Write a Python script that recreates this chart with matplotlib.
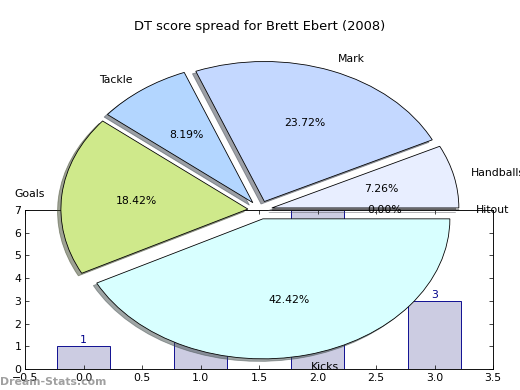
import matplotlib
matplotlib.use("Agg")
import matplotlib.pyplot as plt

# Bar data
bar_x = [0, 1, 2, 3]
bar_values = [1, 4, 7, 3]

# Pie data
pie_labels = ["Handballs", "Mark", "Tackle", "Goals", "Kicks", "Hitout"]
pie_values = [7.26, 23.72, 8.19, 18.42, 42.42, 0.0]
pie_colors = ["#e8eeff", "#c4d8ff", "#b3d6ff", "#cfe98b", "#d8ffff", "#e8e8ff"]
explode = [0.065] * len(pie_values)

title = "DT score spread for Brett Ebert (2008)"

fig = plt.figure(figsize=(8, 6), dpi=65)
plt.rcParams['font.size'] = 12

# Bar axes
axb = fig.add_axes([25 / 520, 21 / 390, 468 / 520, 159 / 390])
axb.bar(bar_x, bar_values, width=0.45, color="#ccccE2", edgecolor="#00008b", linewidth=1.0)
for x, v in zip(bar_x, bar_values):
    axb.text(x, v + 0.05, str(v), ha="center", va="bottom", color="#00008b", fontsize=12)
axb.set_xlim(-0.5, 3.5)
axb.set_ylim(0, 7)
axb.set_xticks([-0.5, 0.0, 0.5, 1.0, 1.5, 2.0, 2.5, 3.0, 3.5])
axb.set_yticks(range(0, 8))
axb.tick_params(direction="in", top=True, right=True, length=4, width=0.8, labelsize=12, pad=4)
for s in axb.spines.values():
    s.set_linewidth(1.0)

# Pie axes
axp = fig.add_axes([26.25 / 520, 5 / 390, 467.5 / 520, 350 / 390])
axp.pie(pie_values, labels=pie_labels, colors=pie_colors, explode=explode,
        autopct="%.2f%%", shadow=True, startangle=0, labeldistance=1.09,
        wedgeprops=dict(edgecolor="black", linewidth=0.9),
        textprops=dict(fontsize=12))
axp.set_aspect("auto")
axp.set_xlim(-1.25, 1.25)
axp.set_ylim(-1.25, 1.25)
axp.set_title(title, fontsize=14.4)

fig.text(0.0, 0.008, "Dream-Stats.com", ha="left", va="bottom", color="#888888",
         alpha=0.8, fontsize=12, fontweight="bold")

fig.savefig("out.png", dpi=65)
